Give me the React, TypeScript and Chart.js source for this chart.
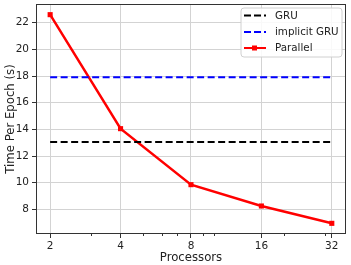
import React, { useEffect, useRef } from 'react';
import { Chart, registerables } from 'chart.js';
Chart.register(...registerables);

const processors = [2, 4, 8, 16, 32];
const parallelTimes = [22.6, 14.05, 9.85, 8.25, 6.95];
const gruRange = [2, 32];
const gruTime = [13.05, 13.05];
const implicitGruTime = [17.9, 17.9];
const yTicks = [8, 10, 12, 14, 16, 18, 20, 22];
const xMinorTicks = [3, 5, 6, 7, 9, 10, 20, 30];
const legendLabels = ['GRU', 'implicit GRU', 'Parallel'];
const legendColors = ['#000000', '#0000ff', '#ff0000'];

const FONT = '"DejaVu Sans", sans-serif';

const framePlugin = {
  id: 'frame',
  afterDatasetsDraw(chart: any) {
    const { ctx, chartArea } = chart;
    const xs = chart.scales.x;
    ctx.save();
    ctx.strokeStyle = '#333';
    ctx.lineWidth = 1;
    ctx.strokeRect(chartArea.left + 0.5, chartArea.top + 0.5, chartArea.right - chartArea.left - 1, chartArea.bottom - chartArea.top - 1);
    ctx.beginPath();
    for (const v of xMinorTicks) {
      const px = Math.round(xs.getPixelForValue(v)) + 0.5;
      ctx.moveTo(px, chartArea.bottom);
      ctx.lineTo(px, chartArea.bottom + 2);
    }
    ctx.stroke();
    ctx.restore();
  },
  afterDraw(chart: any) {
    const { ctx } = chart;
    ctx.save();
    const bx = 241, by = 8, bw = 101, bh = 49, r = 3;
    ctx.beginPath();
    ctx.moveTo(bx + r, by);
    ctx.lineTo(bx + bw - r, by);
    ctx.arcTo(bx + bw, by, bx + bw, by + r, r);
    ctx.lineTo(bx + bw, by + bh - r);
    ctx.arcTo(bx + bw, by + bh, bx + bw - r, by + bh, r);
    ctx.lineTo(bx + r, by + bh);
    ctx.arcTo(bx, by + bh, bx, by + bh - r, r);
    ctx.lineTo(bx, by + r);
    ctx.arcTo(bx, by, bx + r, by, r);
    ctx.closePath();
    ctx.fillStyle = 'rgba(255,255,255,0.85)';
    ctx.fill();
    ctx.strokeStyle = '#d0d0d0';
    ctx.lineWidth = 1;
    ctx.stroke();
    const rows = [15.5, 32, 48];
    ctx.font = '10.3px ' + FONT;
    ctx.textBaseline = 'middle';
    legendLabels.forEach((lab, i) => {
      const y = rows[i];
      ctx.strokeStyle = legendColors[i];
      ctx.lineWidth = 2;
      ctx.setLineDash(i < 2 ? [7, 3] : []);
      ctx.beginPath();
      ctx.moveTo(244, y);
      ctx.lineTo(266, y);
      ctx.stroke();
      ctx.setLineDash([]);
      if (i === 2) {
        ctx.fillStyle = legendColors[i];
        ctx.fillRect(252, y - 2.5, 5, 5);
      }
      ctx.fillStyle = '#222';
      ctx.fillText(lab, 275, y + 0.5);
    });
    ctx.restore();
  },
};

export default function App() {
  const ref = useRef<HTMLCanvasElement>(null);
  useEffect(() => {
    document.body.style.margin = '0';
    const chart = new Chart(ref.current!, {
      type: 'line',
      data: {
        datasets: [
          {
            label: legendLabels[0],
            data: gruRange.map((x, i) => ({ x, y: gruTime[i] })),
            borderColor: legendColors[0],
            borderWidth: 2,
            borderDash: [7, 3.5],
            pointRadius: 0,
          },
          {
            label: legendLabels[1],
            data: gruRange.map((x, i) => ({ x, y: implicitGruTime[i] })),
            borderColor: legendColors[1],
            borderWidth: 2,
            borderDash: [7, 3.5],
            pointRadius: 0,
          },
          {
            label: legendLabels[2],
            data: processors.map((x, i) => ({ x, y: parallelTimes[i] })),
            borderColor: legendColors[2],
            backgroundColor: legendColors[2],
            borderWidth: 2.5,
            pointStyle: 'rect',
            pointRadius: 3.6,
            pointBorderWidth: 0,
          },
        ],
      },
      options: {
        animation: false,
        responsive: false,
        layout: { padding: { top: 3, right: 5, left: 0, bottom: 0 } },
        plugins: { legend: { display: false }, tooltip: { enabled: false } },
        scales: {
          x: {
            type: 'logarithmic',
            min: 1.74,
            max: 36.8,
            afterBuildTicks: (s: any) => {
              s.ticks = processors.map((v) => ({ value: v }));
            },
            afterFit: (s: any) => {
              s.height = 31;
              s.paddingLeft = 0;
              s.paddingRight = 0;
            },
            ticks: {
              autoSkip: false,
              maxRotation: 0,
              padding: 2,
              color: '#222',
              font: { family: FONT, size: 10.5 },
              callback: (v: any) => String(v),
            },
            grid: { color: '#d3d3d3', tickColor: '#333', tickLength: 4, lineWidth: 1 },
            border: { display: false },
            title: {
              display: true,
              text: 'Processors',
              color: '#222',
              font: { family: FONT, size: 11.7 },
              padding: { top: 0, bottom: 0.5 },
            },
          },
          y: {
            type: 'linear',
            min: 6.15,
            max: 23.4,
            afterBuildTicks: (s: any) => {
              s.ticks = yTicks.map((v) => ({ value: v }));
            },
            afterFit: (s: any) => {
              s.width = 36;
              s.paddingTop = 0;
              s.paddingBottom = 0;
            },
            ticks: {
              padding: 3,
              color: '#222',
              font: { family: FONT, size: 10.5 },
              callback: (v: any) => String(v),
            },
            grid: { color: '#d3d3d3', tickColor: '#333', tickLength: 4, lineWidth: 1 },
            border: { display: false },
            title: {
              display: true,
              text: 'Time Per Epoch (s)',
              color: '#222',
              font: { family: FONT, size: 11.7 },
              padding: { top: 3.5, bottom: 0 },
            },
          },
        },
      },
      plugins: [framePlugin],
    });
    return () => chart.destroy();
  }, []);
  return (
    <div style={{ position: 'absolute', left: 0, top: 0, width: 351, height: 265 }}>
      <canvas ref={ref} width={351} height={265} style={{ width: 351, height: 265 }} />
    </div>
  );
}
